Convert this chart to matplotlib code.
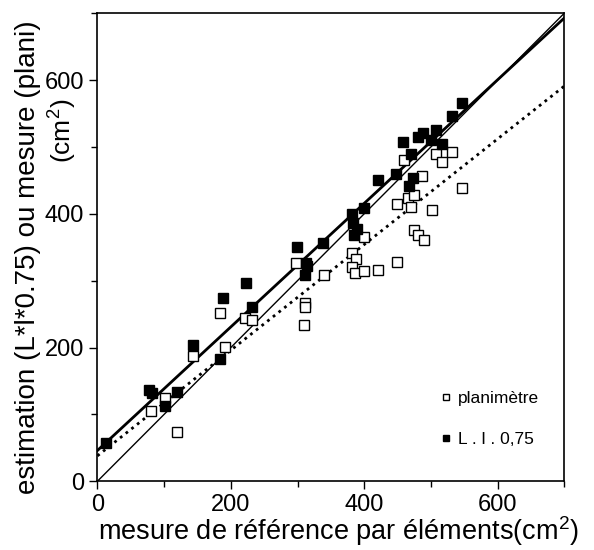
import numpy as np
import matplotlib
matplotlib.use("Agg")
import matplotlib.pyplot as plt

plt.rcParams['font.family'] = ['Liberation Sans', 'DejaVu Sans']
plt.rcParams['mathtext.fontset'] = 'custom'
plt.rcParams['mathtext.rm'] = 'Liberation Sans'
plt.rcParams['mathtext.it'] = 'Liberation Sans'

# planimetre (hollow squares)
plani_x = [80, 101, 119, 143, 184, 191, 222, 232, 298, 311, 311, 310, 339, 381, 388, 381,
           386, 400, 400, 421, 449, 449, 459, 466, 470, 475, 475, 481, 487, 490, 501, 507,
           516, 532, 547]
plani_y = [105, 124, 74, 187, 252, 201, 244, 241, 327, 266, 260, 234, 308, 341, 333, 321,
           312, 314, 366, 316, 328, 415, 481, 423, 410, 428, 376, 368, 457, 361, 405, 489,
           478, 492, 439]

# L.l.0,75 (filled squares)
ll_x = [13, 77, 82, 101, 119, 143, 184, 188, 223, 232, 299, 312, 314, 311, 338, 381, 383,
        389, 384, 399, 421, 447, 458, 467, 470, 473, 481, 488, 500, 507, 516, 531, 546]
ll_y = [57, 136, 132, 112, 133, 204, 183, 274, 296, 260, 350, 327, 322, 308, 356, 400, 386,
        377, 368, 408, 451, 460, 508, 442, 489, 453, 515, 521, 510, 526, 504, 546, 565]

# regression lines (intercept, slope)
ll_fit = (46, 0.924)
plani_fit = (38, 0.79)

fig = plt.figure(figsize=(5.94, 5.5), dpi=100)
ax = fig.add_axes([0.164, 0.125, 0.786, 0.851])

xx = np.array([0, 700])
ax.plot(xx, xx, color='black', lw=1.0)
ax.plot(xx, ll_fit[0] + ll_fit[1] * xx, color='black', lw=2.0)
ax.plot(xx, plani_fit[0] + plani_fit[1] * xx, color='black', lw=2.0, linestyle=(0, (1, 1.6)))

ax.plot(plani_x, plani_y, 's', ms=6.5, mfc='white', mec='black', mew=1.0, ls='none',
        label='planimètre')
ax.plot(ll_x, ll_y, 's', ms=6.5, mfc='black', mec='black', ls='none',
        label='L . l . 0,75')

ax.set_xlim(0, 700)
ax.set_ylim(0, 700)
ax.set_xticks([0, 200, 400, 600])
ax.set_yticks([0, 200, 400, 600])
ax.set_xticks([100, 300, 500, 700], minor=True)
ax.set_yticks([100, 300, 500, 700], minor=True)
ax.tick_params(which='major', direction='out', length=6, labelsize=17, width=1)
ax.tick_params(which='minor', direction='out', length=4, width=1)
for s in ax.spines.values():
    s.set_linewidth(1.2)

fig.text(0.57, 0.034, 'mesure de référence par éléments(cm$^2$)', fontsize=19.5,
         ha='center', va='center')
fig.text(0.047, 0.533, 'estimation (L*l*0.75) ou mesure (plani)', rotation=90,
         fontsize=20, ha='center', va='center')
fig.text(0.106, 0.762, '(cm$^2$)', rotation=90, fontsize=19, ha='center', va='center')

leg = ax.legend(loc='lower right', bbox_to_anchor=(0.98, 0.04), frameon=False,
                fontsize=12.5, markerscale=0.7, handlelength=0.8, handletextpad=0.3,
                labelspacing=1.5)

fig.savefig('out.png', dpi=100)
